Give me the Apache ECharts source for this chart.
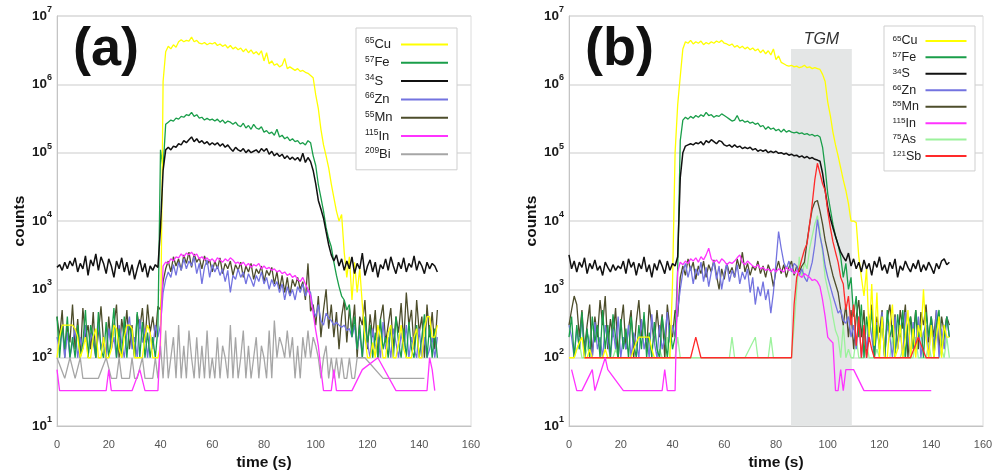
<!DOCTYPE html>
<html><head><meta charset="utf-8">
<script src="https://cdn.jsdelivr.net/npm/echarts@6/dist/echarts.min.js"></script>
<style>html,body{margin:0;padding:0;background:#fff}#c{width:998px;height:476px}</style>
</head><body><div id="c"></div>
<script>
const n = null;
// time axis (s)
const T = [
0,1,2,3,4,5,6,7,8,9, 10,11,12,13,14,15,16,17,18,19, 20,21,22,23,24,25,26,27,28,29,
30,31,32,33,34,35,36,37,38,39, 40,41,42,43,44,45,46,47,48,49, 50,51,52,53,54,55,56,57,58,59,
60,61,62,63,64,65,66,67,68,69, 70,71,72,73,74,75,76,77,78,79, 80,81,82,83,84,85,86,87,88,89,
90,91,92,93,94,95,96,97,98,99, 100,101,102,103,104,105,106,107,108,109, 110,111,112,113,114,115,116,117,118,119,
120,121,122,123,124,125,126,127,128,129, 130,131,132,133,134,135,136,137,138,139, 140,141,142,143,144,145,146,147];
const X_TICKS = [0,20,40,60,80,100,120,140,160];

// ---------- panel (a) ----------
const CU_A = [
100,200,300,300,300,300,300,267,200,100, 133,200,100,100,200,267,100,100,200,100,
100,133,300,267,133,100,200,300,300,267, 100,100,100,100,200,300,233,100,100,100,
150,1.1e6,3.0e6,3.6e6,3.3e6,3.8e6,3.5e6,4.2e6,4.5e6,4.2e6, 4.4e6,4.3e6,4.9e6,4.2e6,4.4e6,4.0e6,3.9e6,4.1e6,3.8e6,4.0e6,
3.9e6,4.1e6,3.7e6,3.9e6,3.6e6,3.8e6,3.4e6,3.7e6,3.3e6,3.5e6, 3.2e6,3.4e6,3.0e6,3.3e6,2.9e6,3.2e6,2.8e6,3.0e6,2.7e6,3.1e6,
2.2e6,2.9e6,2.0e6,2.2e6,1.9e6,2.0e6,1.8e6,1.9e6,2.4e6,1.7e6, 1.8e6,1.7e6,1.6e6,1.7e6,1.55e6,1.6e6,1.5e6,1.45e6,1.35e6,1.25e6,
7e5,4.4e5,2.2e5,1.3e5,9e4,6e4,3.5e4,2.2e4,1.4e4,1e4, 1.25e4,3.5e3,1.5e3,3e3,700,2.5e3,900,2e3,600,200,
100,100,167,100,300,200,100,100,233,300, 100,100,167,300,133,100,100,100,200,267, 100,100,267,400,400,200,200,300];
const FE_A = [
400,100,300,133,400,100,200,100,300,100, 167,500,100,300,200,100,467,133,100,333,
100,200,533,100,267,100,400,100,300,200, 100,467,100,333,100,233,100,200,100,267,
1.1e5,6e4,2.6e5,2.8e5,3.0e5,2.9e5,3.2e5,3.1e5,3.4e5,3.3e5, 3.6e5,3.5e5,3.9e5,3.4e5,3.6e5,3.2e5,3.3e5,3.0e5,3.2e5,3.0e5,
3.1e5,2.9e5,3.1e5,2.8e5,3.0e5,2.7e5,2.9e5,2.8e5,2.6e5,2.8e5, 2.5e5,2.4e5,2.7e5,2.3e5,2.5e5,2.2e5,2.6e5,2.3e5,2.2e5,2.4e5,
2.0e5,2.1e5,1.9e5,2.0e5,1.8e5,2.2e5,1.7e5,1.8e5,1.6e5,1.7e5, 1.5e5,1.6e5,1.45e5,1.5e5,1.35e5,1.4e5,1.3e5,1.5e5,1.4e5,9e4,
6.5e4,3.4e4,2.2e4,1.4e4,8e3,5.5e3,4.2e3,2.5e3,1.6e3,1.1e3, 800,700,500,600,200,400,133,300,100,400,
167,300,100,233,100,367,133,200,100,300, 100,400,167,100,267,100,333,133,100,300, 100,200,433,100,300,100,267,100];
const S_A = [
2100,2300,1900,2500,2000,2600,2200,2900,1800,2400, 2000,3100,1600,2700,2200,3300,1900,3000,2400,1700,
2800,2200,1500,2600,2000,2900,1800,2500,1600,2300, 1400,2000,2700,1800,2400,1500,2200,1900,2300,2100,
8e3,5.5e4,1.1e5,1.2e5,1.1e5,1.25e5,1.2e5,1.35e5,1.3e5,1.5e5, 1.4e5,1.55e5,1.7e5,1.45e5,1.6e5,1.4e5,1.5e5,1.35e5,1.45e5,1.3e5,
1.4e5,1.3e5,1.4e5,1.25e5,1.35e5,1.2e5,1.3e5,1.15e5,1.05e5,1.2e5, 1.1e5,1.05e5,1.15e5,1.0e5,1.1e5,1.0e5,1.05e5,1.1e5,1.0e5,1.15e5,
1.05e5,1.15e5,9.5e4,1.05e5,9e4,9.8e4,8.8e4,9.5e4,8.2e4,9e4, 8e4,8.6e4,7.8e4,8.5e4,7.5e4,9.8e4,7.2e4,8.5e4,7.4e4,5.5e4,
3.5e4,2e4,1.5e4,1.1e4,7e3,4.5e3,3.2e3,2.6e3,3.2e3,2.2e3, 2800,1900,2600,2000,3000,1700,2400,2000,3400,1600,
2200,2700,1800,2500,1500,2300,2000,2800,1900,3000, 2200,1700,2500,2000,2900,1800,2400,2100,3100,1900, 2600,2200,1700,2500,2000,2400,2200,1800];
const ZN_A = [
200,133,300,100,233,100,167,267,100,200, 133,300,100,233,167,100,333,133,200,100,
267,133,200,100,300,167,100,233,400,133, 200,100,367,167,267,100,233,133,300,200,
300,900,1400,1800,1500,2300,1600,2500,1900,2800, 2000,2600,2200,3000,1700,2400,1200,2100,2700,1500,
2300,1800,2200,1600,2000,1300,1900,900,1600,1400, 2000,1500,1800,1200,1700,1400,1100,1600,1300,1800,
1200,1500,1000,1400,1100,1300,900,1200,700,1100, 800,1000,700,1100,900,1200,800,1000,900,500,
400,600,350,300,450,380,350,300,330,300, 280,300,250,267,200,300,133,233,100,300,
167,100,267,133,200,100,333,133,200,100, 267,167,100,233,133,300,100,200,133,100, 267,100,200,100,133,200,100,200];
const MN_A = [
400,200,500,100,300,167,600,133,367,100, 533,200,300,133,467,100,233,567,167,100,
400,133,300,600,100,367,200,500,133,300, 100,433,267,533,167,600,233,400,200,567,
500,1300,2000,2600,1800,3000,2200,2800,1900,3200, 2400,3500,2100,3300,2500,2900,2000,3100,2300,2700,
1800,2600,2000,2900,1700,2400,2000,2600,1600,2300, 1900,2500,1500,2200,1800,2400,1400,2000,1700,2200,
1300,1900,1600,2100,1200,1800,1000,1600,900,1500, 800,1400,1100,1500,1000,1300,700,2400,480,600,
300,800,200,500,1000,267,600,200,467,133, 400,700,167,533,233,600,100,400,300,700,
133,433,200,500,100,367,600,167,300,533, 133,400,233,633,167,900,300,500,133,700, 233,400,100,600,200,467,133,500];
const IN_A = [
67,33,33,33,33,33,33,33,33,33, 33,33,33,33,33,33,33,33,33,33,
67,33,33,33,33,33,33,33,33,33, n,n,67,n,33,33,33,33,33,33,
200,2200,2500,2400,2800,2600,3000,2900,3300,3000, 3400,3200,3500,3100,3300,2800,3000,2700,2900,2600,
2800,2500,2900,2700,2500,2800,2600,2900,2700,2400, 2500,2300,2500,2200,2400,2100,2300,2200,2400,2000,
2200,2000,2100,1900,2000,1800,1900,1700,1800,1600, 1700,1500,1600,1400,1300,1500,1200,1000,800,450,
250,150,67,33,33,33,33,67,33,33, 33,33,33,33,33,n,n,n,67,n,
n,n,n,n,100,n,n,n,n,n, n,33,33,33,33,33,33,33,33,33, 33,33,33,33,100,67,33,n];
const BI_A = [
100,n,n,50,n,100,n,50,n,100, 50,50,50,50,50,50,50,n,n,100,
n,50,50,50,100,50,50,50,50,100, 50,50,n,100,50,50,50,50,100,50,
150,50,250,50,100,200,50,300,50,150, 50,250,100,50,200,50,150,50,250,50,
100,50,200,50,150,100,50,300,50,200, 50,100,250,50,150,50,100,200,50,150,
100,50,250,50,350,100,200,150,100,250, 100,200,50,150,50,200,100,250,100,200,
150,100,50,100,150,50,100,50,100,50, 100,50,50,100,50,50,100,n,n,100,
n,n,n,n,n,n,50,50,50,50, 50,50,50,50,50,50,50,50,50,50, 50,50,50,n,n,n,n,n];

// ---------- panel (b) ----------
const CU_B = [
100,100,100,133,167,200,100,100,133,100, 100,100,100,100,133,100,100,100,100,100,
100,100,100,100,100,133,167,200,200,200, 200,200,133,100,100,100,100,100,100,100,
1.2e3,1e5,5e5,1.3e6,3.3e6,4.2e6,4.0e6,4.4e6,3.9e6,4.2e6, 4.0e6,4.3e6,3.8e6,4.1e6,3.9e6,4.2e6,4.0e6,4.3e6,4.1e6,4.4e6,
4.0e6,3.9e6,3.7e6,3.9e6,3.5e6,3.7e6,3.4e6,3.6e6,3.3e6,3.5e6, 3.2e6,3.4e6,3.1e6,3.3e6,2.9e6,3.2e6,2.8e6,3.1e6,2.7e6,3.3e6,
2.3e6,2.6e6,2.1e6,2.0e6,1.9e6,1.85e6,1.9e6,1.8e6,1.85e6,1.75e6, 1.8e6,1.9e6,1.75e6,1.8e6,1.7e6,1.75e6,1.7e6,1.65e6,1.4e6,1.1e6,
5.5e5,3.5e5,2e5,1.3e5,9e4,6e4,4e4,2.8e4,1.8e4,1e4, 1e4,9.5e3,3e3,1.5e3,800,2e3,200,1.2e3,150,900,
100,400,100,100,300,600,100,133,300,100, 200,500,100,267,100,300,200,1000,200,100, 300,100,200,400,100,300,200,200];
const FE_B = [
200,400,100,300,133,467,100,267,100,400, 167,300,100,500,133,300,100,433,200,100,
367,133,267,100,400,167,100,300,133,467, 100,233,100,333,133,100,400,200,100,300,
133,200,2000,1.5e5,3.0e5,3.3e5,3.1e5,3.4e5,3.2e5,3.5e5, 3.3e5,3.6e5,3.4e5,3.9e5,3.5e5,3.6e5,3.3e5,3.5e5,3.4e5,3.7e5,
3.5e5,3.3e5,3.1e5,2.9e5,3.0e5,3.5e5,2.9e5,3.0e5,2.8e5,2.9e5, 2.7e5,2.8e5,2.6e5,2.7e5,2.4e5,2.5e5,2.2e5,2.4e5,2.2e5,2.3e5,
2.1e5,2.2e5,2.0e5,2.2e5,2.0e5,2.1e5,2.0e5,1.95e5,2.0e5,1.9e5, 1.95e5,1.85e5,1.9e5,1.8e5,1.85e5,1.75e5,1.8e5,1.7e5,1.2e5,6e4,
2.5e4,1.5e4,9e3,6e3,4.5e3,3e3,1.5e3,2.4e3,1e3,1.5e3, 400,800,200,600,100,400,200,500,100,300,
133,400,100,500,200,300,100,433,200,500, 100,300,400,133,500,200,300,100,467,200, 400,100,300,500,133,200,400,200];
const S_B = [
3200,2000,2600,1800,2500,2100,2900,1700,2400,2000, 2700,1900,2200,1600,2500,2100,1800,2300,1900,2200,
2000,2600,1700,2800,2100,2500,1600,2400,2000,3000, 1800,2300,1500,2400,1900,2700,2200,1700,2600,1900,
2400,2200,3000,4.3e4,1e5,1.25e5,1.3e5,1.35e5,1.3e5,1.4e5, 1.35e5,1.45e5,1.3e5,1.5e5,1.4e5,1.55e5,1.45e5,1.35e5,1.5e5,1.45e5,
1.3e5,1.25e5,1.3e5,1.2e5,1.3e5,1.2e5,1.25e5,1.15e5,1.2e5,1.15e5, 1.2e5,1.1e5,1.15e5,1.05e5,1.1e5,1.05e5,1.1e5,1.0e5,1.05e5,1.0e5,
1.05e5,9.8e4,1.0e5,9.5e4,9.8e4,9.2e4,9.5e4,9.0e4,9.2e4,8.6e4, 9.0e4,8.4e4,8.8e4,8.2e4,8.5e4,8.0e4,7.8e4,7.5e4,5e4,2.8e4,
1.6e4,1.1e4,8e3,6e3,4.5e3,3.5e3,3.0e3,2.6e3,3.4e3,2.2e3, 2800,2000,2500,1800,2700,2000,2400,1600,2600,2100,
3000,1900,2300,1700,2500,2000,2800,1500,2200,1900, 2600,2100,1800,2400,2000,2700,1800,2300,1900,2500, 2100,1700,2400,2000,2600,2800,2300,2500];
const ZN_B = [
300,200,100,267,133,400,100,233,167,100, 333,133,200,100,300,167,100,267,133,400,
100,200,133,300,100,233,167,100,367,133, 200,100,433,167,100,300,133,200,467,167,
300,200,500,1000,1800,2400,1500,2200,1200,2000, 1600,2500,1300,2100,1100,1800,2600,1400,2200,1000,
1700,2400,1300,1900,1500,2300,1200,1800,1400,2000, 900,1500,600,1100,800,1300,700,1000,450,900,
2500,7000,4000,2500,2000,2600,1800,2400,2200,1600, 2000,1500,1300,1800,2500,4500,1.05e4,6000,4000,2200,
1500,1100,800,600,450,500,350,320,400,200, 300,133,400,100,267,133,400,200,100,333,
133,467,100,300,200,100,400,133,267,100, 467,200,100,333,133,400,100,233,300,100, 400,133,500,100,267,133,400,200];
const MN_B = [
300,500,800,600,200,500,133,300,600,100, 400,200,700,300,800,133,367,200,533,100,
300,600,133,267,500,100,333,700,200,400, 133,600,300,167,500,200,433,100,600,267,
200,500,400,1500,2200,1600,2800,1900,2500,1400, 2200,1700,2600,1500,2300,1800,2700,1600,1000,2000,
1400,2400,1700,2100,1500,2800,2000,3500,1800,2400, 1600,2200,1900,2600,1700,2200,1500,2300,1800,1100,
1900,2600,1700,2300,1500,2100,2600,1600,2200,1800, 2200,2500,5000,9000,1.5e4,1.9e4,2.0e4,1.4e4,9000,5200,
3500,2300,1600,1200,900,500,300,600,200,500, 133,400,700,200,500,100,300,600,133,400,
233,500,100,367,600,200,433,133,500,267, 600,100,400,200,500,133,467,300,600,167, 400,200,500,133,400,233,400,300];
const IN_B = [
n,67,n,33,33,33,n,n,n,67, 33,n,n,n,100,67,n,n,n,n,
n,33,33,33,33,33,33,33,33,33, 33,33,33,33,33,33,33,67,33,33,
33,33,1800,2500,2300,2600,2400,2800,2600,2900, 2500,3000,2700,3200,4000,2800,2500,2700,2400,2800,
2600,2300,2500,2400,2600,2900,3200,2500,2300,2600, 2400,2200,2100,2300,2000,2100,1900,2000,1800,2000,
1800,2000,1900,1800,2100,1900,2000,1700,1900,1600, 1500,1700,1600,1500,1350,1400,1300,1100,700,400,
200,180,165,33,33,67,33,67,67,67, 67,n,n,n,33,33,33,33,33,33,
33,33,33,33,33,33,33,33,33,33, 33,33,33,33,33,33,33,33,33,33, 33,n,n,n,n,n,n,n];
const AS_B = [
n,n,100,133,167,100,100,133,200,267, 300,200,133,100,100,100,100,100,133,100,
100,100,100,100,100,100,100,100,100,100, 100,100,100,100,100,133,100,100,200,100,
100,100,200,100,100,100,100,100,100,100, 100,100,100,100,100,100,100,100,100,100,
100,100,100,200,100,100,100,100,100,n, n,n,200,100,100,100,100,100,200,100,
100,100,100,100,100,100,100,300,1000,3000, 1500,2500,2000,4000,6000,9000,1.2e4,7000,3500,1500,
1000,700,400,250,200,100,300,100,133,100, 100,200,100,100,100,167,100,100,100,133,
100,100,100,100,100,200,100,100,100,133, 100,100,100,100,200,100,100,100,100,167, 100,100,100,100,133,100,200,100];
const SB_B = [
n,n,n,n,n,n,100,100,100,100, 100,100,100,100,100,100,100,100,100,100,
100,100,100,100,100,100,100,100,100,100, 100,100,100,100,100,100,100,100,100,100,
100,100,100,100,100,100,100,100,n,200, n,100,100,100,100,100,100,100,100,100,
100,100,100,100,100,100,100,100,100,100, 100,100,100,100,100,100,100,100,100,100,
100,100,100,100,100,100,100,600,1500,2000, 2800,3800,4700,9000,1.8e4,4e4,7e4,5e4,3.5e4,2.8e4,
1.4e4,8e3,5e3,3.5e3,2.5e3,1.5e3,1.2e3,500,800,300, 600,150,400,100,300,100,200,133,100,100,
100,100,100,100,100,100,100,100,100,100, 100,100,100,n,n,200,n,n,100,100, 100,100,100,100,n,n,n,n];

// TGM window (s) and its top (counts)
const TGM_RANGE = [85.8, 109.3];
const TGM_TOP = 3.3e6;

const FONT = '"Liberation Sans", Arial, sans-serif';
const COLORS = {Cu:'#ffff00', Fe:'#1a9e4a', S:'#111111', Zn:'#7373e0', Mn:'#4d4d2b', In:'#ff33ff', Bi:'#a6a6a6', As:'#9cf29c', Sb:'#ff2a2a'};
const ISO = {Cu:'65', Fe:'57', S:'34', Zn:'66', Mn:'55', In:'115', Bi:'209', As:'75', Sb:'121'};
const DATA_A = {Cu:CU_A, Fe:FE_A, S:S_A, Zn:ZN_A, Mn:MN_A, In:IN_A, Bi:BI_A};
const DATA_B = {Cu:CU_B, Fe:FE_B, S:S_B, Zn:ZN_B, Mn:MN_B, In:IN_B, As:AS_B, Sb:SB_B};
const DRAW_A = ['Mn','Zn','Fe','Cu','S','Bi','In'];
const DRAW_B = ['As','Mn','Zn','Fe','Cu','S','Sb','In'];
const LEG_A = ['Cu','Fe','S','Zn','Mn','In','Bi'];
const LEG_B = ['Cu','Fe','S','Zn','Mn','In','As','Sb'];

function pairs(v){ return T.map((t,i)=>[t, v[i]]); }
function mkSeries(panel, el, vals, idx){
  return {type:'line', name: panel + ':' + el, xAxisIndex: idx, yAxisIndex: idx,
    data: pairs(vals), color: COLORS[el], showSymbol:false, symbol:'none', connectNulls:true,
    lineStyle:{width: el==='S' ? 1.5 : 1.3, color: COLORS[el]}, silent:true, z:3,
    emphasis:{disabled:true}};
}
const series = [];
DRAW_A.forEach(el => series.push(mkSeries('a', el, DATA_A[el], 0)));
series.push({type:'line', name:'tgm', xAxisIndex:1, yAxisIndex:1, data:[], z:1, silent:true,
  markArea:{silent:true, itemStyle:{color:'#e4e6e6'},
    label:{show:true, position:'top', distance:1, color:'#333', fontStyle:'italic', fontSize:16, fontFamily:FONT},
    data:[[{name:'TGM', xAxis:TGM_RANGE[0], yAxis:10},{xAxis:TGM_RANGE[1], yAxis:TGM_TOP}]]}});
DRAW_B.forEach(el => series.push(mkSeries('b', el, DATA_B[el], 1)));

function legFmt(name){ const el = name.split(':')[1]; return '{s|' + ISO[el] + '}{m|' + el + '}'; }
function legend(panel, list, left, top, iw, gap, pad, tw, fs, lh){
  return {show:true, orient:'vertical', left:left, top:top, align:'right', icon:'rect',
    itemWidth:iw, itemHeight:2, itemGap:gap, padding:pad, backgroundColor:'#fff',
    borderColor:'#cfcfcf', borderWidth:1, selectedMode:false,
    data: list.map(el => panel + ':' + el), formatter: legFmt,
    textStyle:{width:tw, fontFamily:FONT, rich:{
      s:{fontSize:fs*0.65, lineHeight:fs*0.7, verticalAlign:'top', align:'left', color:'#222', fontFamily:FONT},
      m:{fontSize:fs, lineHeight:lh, align:'left', color:'#222', fontFamily:FONT}}}};
}
function yAxis(idx){
  return {type:'log', logBase:10, min:10, max:1e7, gridIndex:idx,
    axisLine:{show:true, lineStyle:{color:'#c4c4c4'}}, axisTick:{show:false},
    splitLine:{show:true, lineStyle:{color:'#dcdcdc', width:1.5}},
    axisLabel:{margin:5, formatter: v => '{b|10}{s|' + Math.round(Math.log10(v)) + '}',
      rich:{b:{fontSize:13.5, fontWeight:'bold', color:'#1a1a1a', lineHeight:22, fontFamily:FONT},
            s:{fontSize:9, fontWeight:'bold', color:'#1a1a1a', lineHeight:10, verticalAlign:'top', fontFamily:FONT}}},
    name:'counts', nameLocation:'middle', nameGap:27,
    nameTextStyle:{fontSize:15.5, fontWeight:'bold', color:'#111', fontFamily:FONT}};
}
function xAxis(idx){
  return {type:'value', min:X_TICKS[0], max:X_TICKS[X_TICKS.length-1], interval:X_TICKS[1]-X_TICKS[0], gridIndex:idx,
    axisLine:{onZero:false, lineStyle:{color:'#c4c4c4'}}, axisTick:{show:false}, splitLine:{show:false},
    axisLabel:{color:'#555', fontSize:11, margin:13, fontFamily:FONT},
    name:'time (s)', nameLocation:'middle', nameGap:25,
    nameTextStyle:{fontSize:15.5, fontWeight:'bold', color:'#111', fontFamily:FONT}};
}

const chart = echarts.init(document.getElementById('c'), null, {renderer:'canvas'});
chart.setOption({
  animation:false,
  backgroundColor:'#fff',
  grid:[{left:57, top:16, width:414, height:415, show:true, borderColor:'#dcdcdc', borderWidth:1},
        {left:569, top:16, width:414, height:415, show:true, borderColor:'#dcdcdc', borderWidth:1}],
  xAxis:[xAxis(0), xAxis(1)],
  yAxis:[yAxis(0), yAxis(1)],
  legend:[legend('a', LEG_A, 356, 28, 47, 4.3, [9,9,9,9], 31, 13, 15),
          legend('b', LEG_B, 884, 26, 41, 3.45, [8.4,8.5,8.4,8.5], 28, 12.5, 13)],
  graphic:[
    {type:'text', x:73, y:50, style:{text:'(a)', fill:'#111', font:'bold 54px "Liberation Sans", Arial, sans-serif', verticalAlign:'middle'}},
    {type:'text', x:585, y:50, style:{text:'(b)', fill:'#111', font:'bold 54px "Liberation Sans", Arial, sans-serif', verticalAlign:'middle'}}
  ],
  series: series
});
</script></body></html>
